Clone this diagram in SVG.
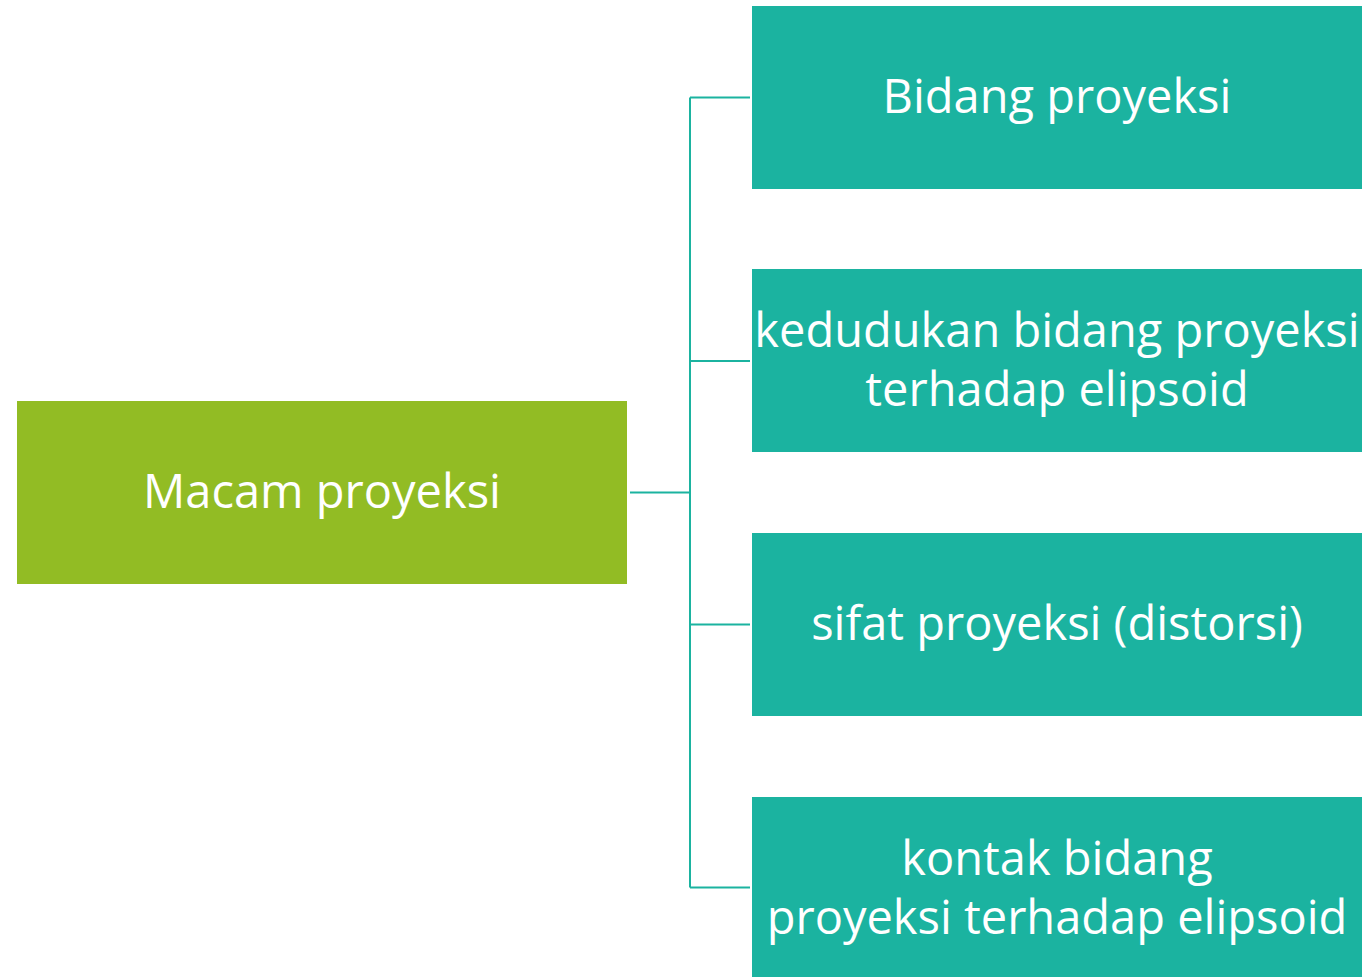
<svg xmlns="http://www.w3.org/2000/svg" width="1367" height="977" viewBox="0 0 1367 977">
<style>
.t{font-family:"Open Sans","Noto Sans","Liberation Sans",sans-serif;font-size:47px;fill:#fff;text-anchor:middle}
.c{stroke:#1BB3A0;stroke-width:2;fill:none}
.r{fill:#1BB3A0}
</style>
<rect width="1367" height="977" fill="#fff"/>
<g id="connectors">
<path class="c" d="M630 492.5H690M690 97.5V887.5M690 97.5H750M690 361H750M690 624.5H750M690 887.5H750"/>
</g>
<g id="n0"><rect x="17" y="401" width="610" height="183" fill="#92BC24"/><text class="t" x="322" y="508">Macam proyeksi</text></g>
<g id="n1"><rect class="r" x="752" y="6" width="610" height="183"/><text class="t" x="1057" y="113">Bidang proyeksi</text></g>
<g id="n2"><rect class="r" x="752" y="269" width="610" height="183"/><text class="t" x="1057" y="347">kedudukan bidang proyeksi</text><text class="t" x="1057" y="406">terhadap elipsoid</text></g>
<g id="n3"><rect class="r" x="752" y="533" width="610" height="183"/><text class="t" x="1057" y="640">sifat proyeksi (distorsi)</text></g>
<g id="n4"><rect class="r" x="752" y="797" width="610" height="183"/><text class="t" x="1057" y="875">kontak bidang</text><text class="t" x="1057" y="934">proyeksi terhadap elipsoid</text></g>
</svg>
